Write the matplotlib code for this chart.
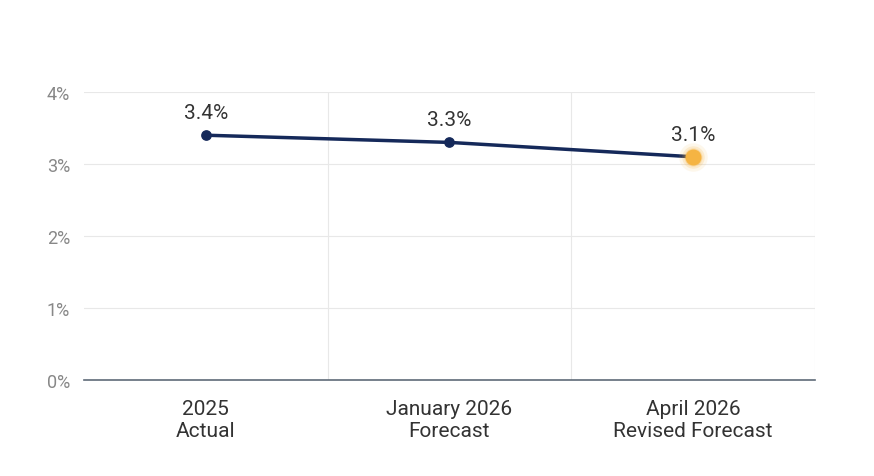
import matplotlib
matplotlib.use("Agg")
import matplotlib.pyplot as plt

categories = ["2025\nActual", "January 2026\nForecast", "April 2026\nRevised Forecast"]
values = [3.4, 3.3, 3.1]
yticks = [0, 1, 2, 3, 4]

plt.rcParams["font.family"] = ["Roboto", "DejaVu Sans"]

fig = plt.figure(figsize=(8.74, 4.77), dpi=100)
ax = fig.add_axes([0.096, 0.2013, 0.8365, 0.6037])
x = list(range(len(values)))

ax.plot(x, values, color="#15295a", lw=2.5, zorder=3)
ax.scatter(x[:-1], values[:-1], s=45, color="#15295a", zorder=4)
# glow around last point
for s, a in [(420, 0.10), (260, 0.18), (170, 0.3)]:
    ax.scatter(x[-1], values[-1], s=s, color="#f5b240", alpha=a, lw=0, zorder=4)
ax.scatter(x[-1], values[-1], s=110, color="#f5b443", zorder=5)

for xi, v in zip(x, values):
    ax.text(xi, v + 0.18, f"{v:.1f}%", ha="center", va="bottom",
            fontsize=15, color="#333333")

ax.set_xlim(-0.5, 2.5)
ax.set_ylim(0, 4)
ax.set_yticks(yticks)
ax.set_yticklabels([f"{t}%" for t in yticks])
ax.set_xticks(x)
ax.set_xticklabels(categories, fontsize=15, color="#333333")
ax.tick_params(axis="y", labelsize=13, labelcolor="#888888", length=0, pad=10)
ax.tick_params(axis="x", length=0, pad=14)

for t in yticks[1:]:
    ax.axhline(t, color="#e8e8e8", lw=0.8, zorder=1)
for b in [0.5, 1.5]:
    ax.axvline(b, color="#e8e8e8", lw=0.8, zorder=1)
for side in ["top", "right", "left"]:
    ax.spines[side].set_visible(False)
ax.spines["bottom"].set_color("#5f6b78")
ax.spines["bottom"].set_linewidth(1.2)
ax.axvline(2.5, color="#e8e8e8", lw=0.8, zorder=1)

fig.savefig("out.png", dpi=100)
